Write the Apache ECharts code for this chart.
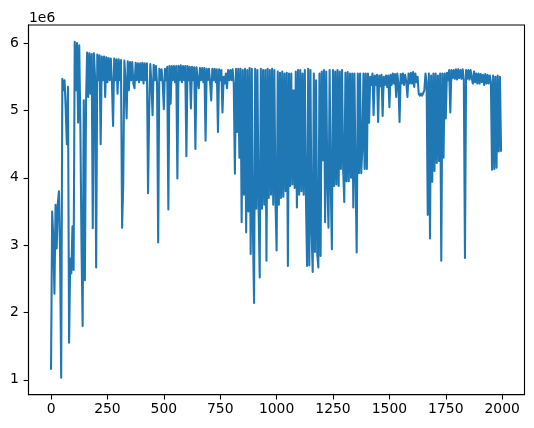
<!DOCTYPE html>
<html><head><meta charset="utf-8">
<script src="https://cdn.jsdelivr.net/npm/echarts@6/dist/echarts.min.js"></script>
<style>html,body{margin:0;padding:0;background:#fff}#c{width:534px;height:428px}</style>
</head><body><div id="c"></div>
<script>
// sample spacing of the values below, in row-index units
const STEP = 5;
// series values (units of 1e6), one per STEP rows, starting at row 0
const values = [
1.16,3.5,3.1,2.28,3.6,2.95,3.62,3.8,2.88,1.03,5.47,5.3,5.45,5.02,4.5,5.35,1.55,2.8,2.58,3.28,
2.63,6.02,5.3,6.0,4.82,5.97,4.76,3.0,1.8,5.15,2.48,5.1,5.86,5.2,5.85,5.25,5.84,3.25,5.85,5.5,
2.67,5.83,5.45,5.82,4.5,5.8,5.45,5.8,5.2,5.79,5.42,5.78,5.45,5.77,5.4,4.77,5.77,5.45,5.76,5.25,
5.76,5.45,5.75,3.26,3.92,5.74,5.45,4.88,5.73,5.3,5.72,5.45,5.72,5.4,5.33,5.71,5.45,5.7,5.42,5.7,
5.45,5.71,5.4,5.7,5.45,5.7,3.77,5.0,5.69,5.4,4.93,5.68,5.45,5.66,5.4,3.04,5.62,5.45,5.61,5.4,
5.02,5.62,5.45,5.65,3.53,5.66,5.1,5.66,5.45,5.66,5.42,5.66,3.99,5.66,5.45,5.67,5.42,5.66,5.45,5.66,
4.32,5.66,5.45,5.65,5.03,5.65,5.45,5.64,4.43,5.64,5.45,5.33,5.63,5.45,5.63,5.42,5.63,4.55,5.62,5.45,
5.62,5.42,5.15,5.62,5.45,5.62,5.42,5.61,4.68,5.61,5.45,5.6,4.97,5.5,5.4,5.55,5.33,5.6,5.45,5.6,
5.45,5.61,5.4,4.06,5.62,4.68,5.62,4.3,5.62,3.34,5.6,3.75,5.62,3.19,5.6,3.5,5.63,2.87,5.62,3.2,
2.14,5.62,3.54,5.6,3.6,2.52,5.62,3.54,5.6,3.6,5.6,2.77,5.62,3.7,5.6,3.75,5.62,3.6,5.6,3.65,
2.92,5.58,3.6,5.56,3.7,5.58,3.72,5.55,3.8,5.56,2.69,5.55,3.88,5.55,3.9,5.3,3.85,5.58,3.56,5.6,
3.75,5.6,3.8,5.55,3.75,5.6,3.7,2.69,5.62,2.7,5.6,3.2,2.6,5.55,2.9,5.45,2.88,2.67,5.55,2.84,
5.58,4.26,5.6,3.34,5.58,3.9,3.26,5.6,3.9,2.94,5.6,3.88,5.58,3.9,5.6,3.88,5.58,4.13,5.6,4.13,
3.64,5.56,3.95,5.57,3.95,5.55,4.0,5.55,3.56,5.55,4.0,2.89,5.55,4.07,5.55,4.07,4.43,5.55,4.13,5.55,
4.13,5.55,4.82,5.5,5.38,5.55,4.93,5.52,5.38,5.53,4.83,5.52,5.36,5.53,4.92,5.5,5.38,5.52,5.35,5.52,
5.05,5.53,5.38,5.55,5.4,5.54,5.2,5.55,5.4,4.83,5.54,5.4,5.55,5.38,5.53,5.42,5.2,5.55,5.4,5.56,
5.4,5.57,5.35,5.55,5.42,5.5,5.25,5.22,5.25,5.22,5.24,5.3,5.55,5.42,3.45,5.55,3.1,5.52,3.94,5.55,
4.1,5.55,4.22,5.52,4.25,5.55,2.77,5.55,4.3,5.55,4.88,5.56,5.45,5.6,4.97,5.6,5.48,5.6,5.47,5.61,
5.46,5.61,5.48,5.6,5.47,5.61,5.46,2.81,5.6,5.47,5.6,5.46,5.6,5.48,5.4,5.58,5.42,5.55,5.4,5.55,
5.4,5.54,5.42,5.53,5.38,5.54,5.4,5.53,5.4,5.52,5.42,4.12,5.52,4.13,5.5,4.15,5.52,4.39,5.5,4.4
];
const nRows = 2000;                 // rows in the original series
const xTicks = [0,250,500,750,1000,1250,1500,1750,2000];
const yTicks = [1,2,3,4,5,6];
const yTickLabels = ['1','2','3','4','5','6'];
const offsetLabel = '1e6';

const data = values.map((v, i) => [i * STEP, v]);
const vmin = Math.min(...values), vmax = Math.max(...values);
const ypad = (vmax - vmin) * 0.05;
const xpad = (nRows - 1) * 0.05;

const FONT = 'DejaVu Sans';
const chart = echarts.init(document.getElementById('c'), null, {renderer: 'canvas'});
chart.setOption({
  animation: false,
  backgroundColor: '#fff',
  grid: {left: 28.5, right: 9.5, top: 25, bottom: 33.4, show: true, borderColor: '#000', borderWidth: 1.1, backgroundColor: 'transparent'},
  xAxis: {
    type: 'value', min: -xpad, max: (nRows - 1) + xpad,
    splitLine: {show: false},
    axisLine: {show: true, onZero: false, lineStyle: {color: '#000', width: 1.1}},
    axisTick: {show: true, length: 4.9, lineStyle: {color: '#000', width: 1.1}, customValues: xTicks},
    axisLabel: {customValues: xTicks, color: '#000', fontSize: 13.9, fontFamily: FONT, margin: 8,
      formatter: v => String(v)}
  },
  yAxis: {
    type: 'value', min: vmin - ypad, max: vmax + ypad,
    splitLine: {show: false},
    axisLine: {show: true, onZero: false, lineStyle: {color: '#000', width: 1.1}},
    axisTick: {show: true, length: 4.9, lineStyle: {color: '#000', width: 1.1}, customValues: yTicks},
    axisLabel: {customValues: yTicks, color: '#000', fontSize: 13.9, fontFamily: FONT, margin: 9.7,
      formatter: v => yTickLabels[yTicks.indexOf(Math.round(v))] || ''}
  },
  graphic: [{
    type: 'text', x: 29, y: 25,
    style: {text: offsetLabel, fill: '#000', font: '13.9px "DejaVu Sans"', align: 'left', verticalAlign: 'bottom'}
  }],
  series: [{
    type: 'line', data: data, showSymbol: false, symbol: 'none', silent: true,
    sampling: null, clip: true,
    lineStyle: {color: '#1f77b4', width: 2.08, join: 'round', cap: 'round'}
  }]
});
</script>
</body></html>
